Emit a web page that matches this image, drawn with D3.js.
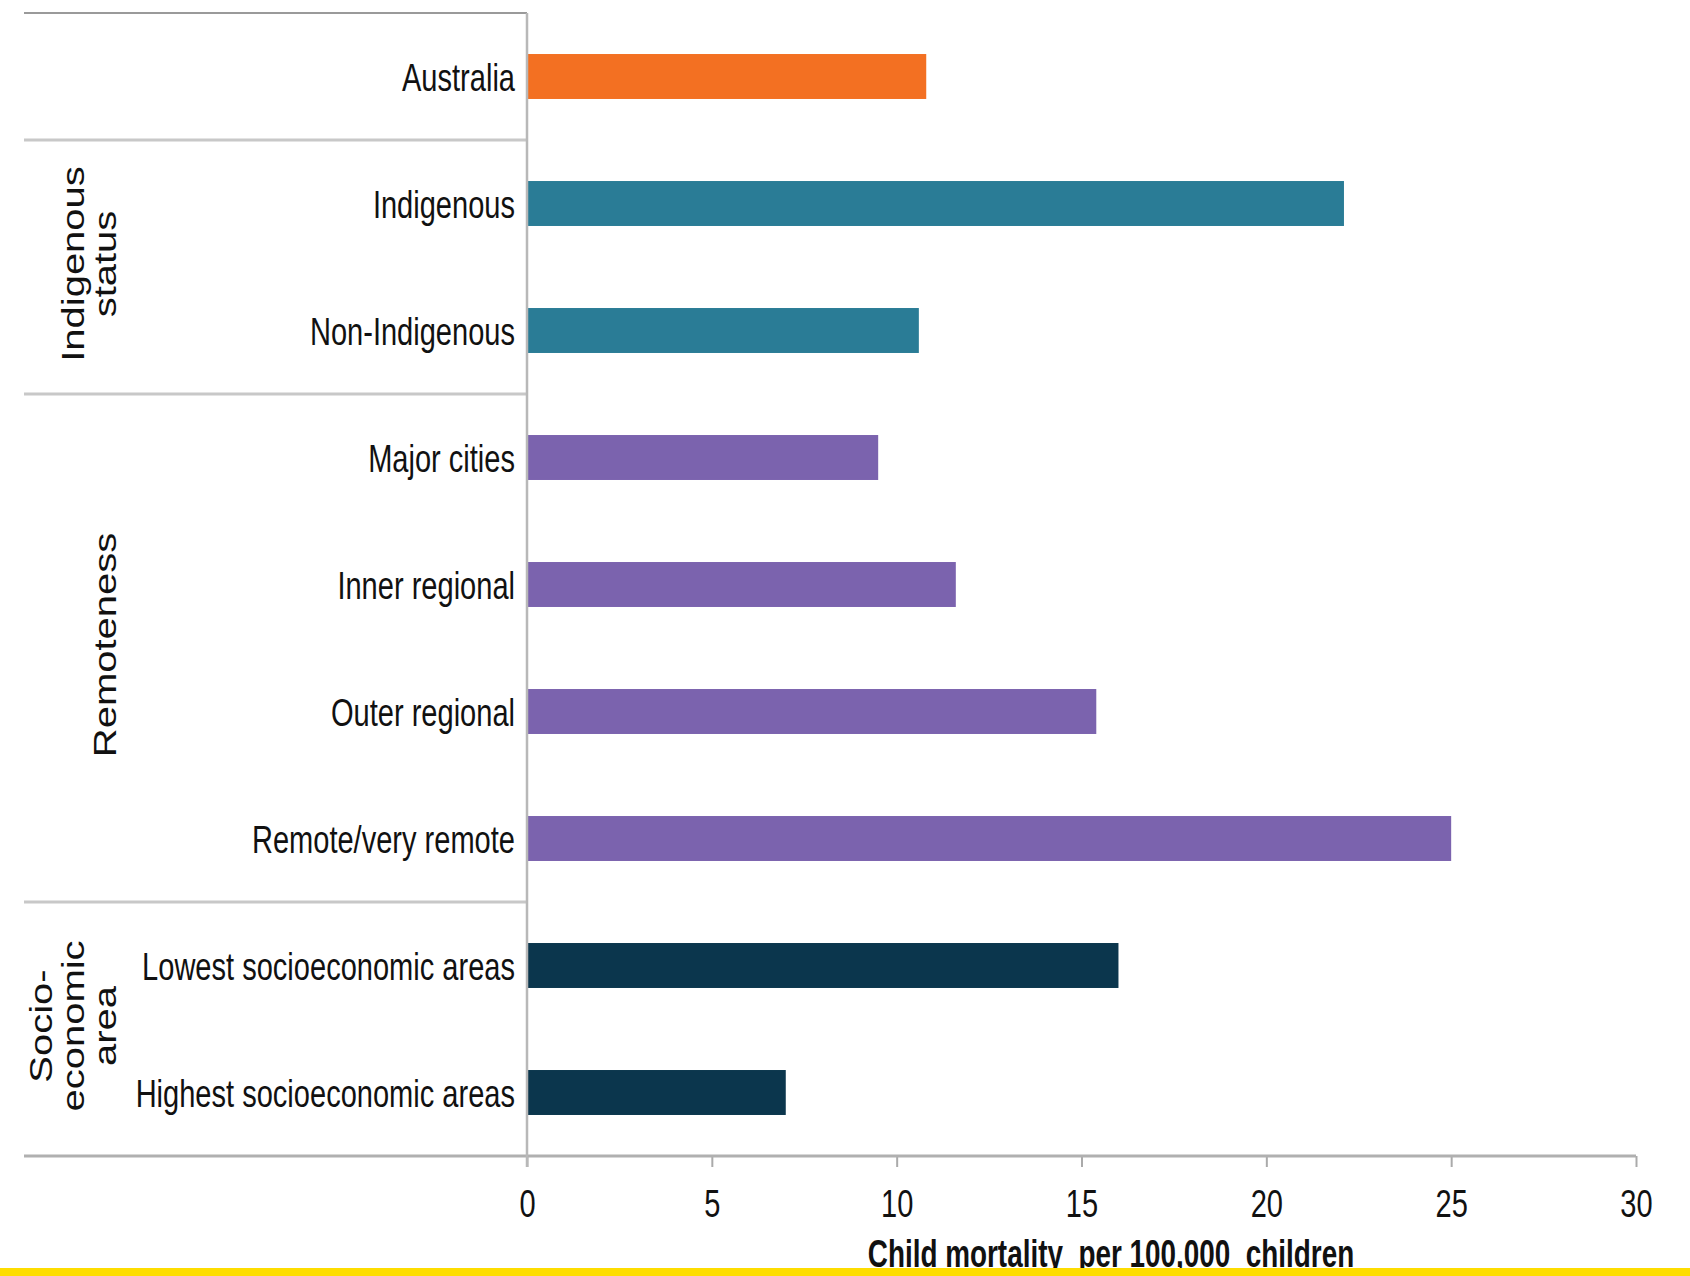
<!DOCTYPE html>
<html>
<head>
<meta charset="utf-8">
<script src="https://cdn.jsdelivr.net/npm/d3@7"></script>
<style>
    body { margin: 0; background: #fff; }
    svg { display: block; font-family: "Liberation Sans", Arial, sans-serif; }
</style>
</head>
<body>
<svg id="chart" width="1690" height="1276"></svg>
<script>
const categories = [
    "Australia",
    "Indigenous",
    "Non-Indigenous",
    "Major cities",
    "Inner regional",
    "Outer regional",
    "Remote/very remote",
    "Lowest socioeconomic areas",
    "Highest socioeconomic areas"
]

const values = [10.8, 22.1, 10.6, 9.5, 11.6, 15.4, 25.0, 16.0, 7.0]

// which group each category belongs to
const groupOf = ["all", "ind", "ind", "rem", "rem", "rem", "rem", "ses", "ses"]

const groups = [
    {key: "all", lines: [], first: "Australia", last: "Australia"},
    {key: "ind", lines: ["Indigenous", "status"], first: "Indigenous", last: "Non-Indigenous"},
    {key: "rem", lines: ["Remoteness"], first: "Major cities", last: "Remote/very remote"},
    {key: "ses", lines: ["Socio-", "economic", "area"], first: "Lowest socioeconomic areas", last: "Highest socioeconomic areas"}
]

const groupColors = {all: "#f37022", ind: "#2a7c96", rem: "#7b63ae", ses: "#0b364d"}

const xTicks = [0, 5, 10, 15, 20, 25, 30]
const xTitle = "Child mortality  per 100,000  children"

const data = categories.map((name, i) => ({name, value: values[i], group: groupOf[i]}))

const width = 1690, height = 1276;
const margin = ({top: 13, right: 54, bottom: 120, left: 527});
const frameLeft = 24;
const squeeze = 0.745; // the source text is narrow / tall

const svg = d3.select("#chart");

const x = d3.scaleLinear()
    .domain([0, 30])
    .range([margin.left, width - margin.right]);

const y = d3.scaleBand()
    .domain(categories)
    .range([margin.top, height - margin.bottom])
    .paddingInner(0.646)
    .paddingOuter(0.323);

const gap = (y.step() - y.bandwidth()) / 2;

// group separators on the left
svg.append("g")
    .selectAll("line")
    .data(groups)
    .join("line")
    .attr("x1", frameLeft)
    .attr("x2", x(0))
    .attr("y1", d => y(d.first) - gap)
    .attr("y2", d => y(d.first) - gap)
    .attr("stroke", (d, i) => i === 0 ? "#9a9a9a" : "#c8c8c8")
    .attr("stroke-width", (d, i) => i === 0 ? 2 : 3);

// bars
svg.append("g")
    .selectAll("rect")
    .data(data)
    .join("rect")
    .attr("x", x(0))
    .attr("y", d => y(d.name))
    .attr("width", d => x(d.value) - x(0))
    .attr("height", y.bandwidth())
    .attr("fill", d => groupColors[d.group]);

// x axis
const xAxis = svg.append("g")
    .attr("transform", `translate(0,${height - margin.bottom})`)
    .call(d3.axisBottom(x).tickValues(xTicks).tickSize(11).tickSizeOuter(0).tickPadding(0));

xAxis.select(".domain").remove();
xAxis.selectAll(".tick line")
    .attr("stroke", "#aaa")
    .attr("stroke-width", 2);
xAxis.selectAll(".tick text")
    .attr("y", 61)
    .attr("dy", null)
    .attr("fill", "#111")
    .attr("font-size", 39)
    .attr("font-family", "Liberation Sans, Arial, sans-serif")
    .attr("transform", `scale(${squeeze},1)`);

// bottom line runs under the whole frame
svg.append("line")
    .attr("x1", frameLeft)
    .attr("x2", x(30))
    .attr("y1", height - margin.bottom)
    .attr("y2", height - margin.bottom)
    .attr("stroke", "#b0b0b0")
    .attr("stroke-width", 3);

// vertical axis line
svg.append("line")
    .attr("x1", x(0))
    .attr("x2", x(0))
    .attr("y1", margin.top)
    .attr("y2", height - margin.bottom + 11)
    .attr("stroke", "#b8b8b8")
    .attr("stroke-width", 2.5);

// category labels
svg.append("g")
    .selectAll("g")
    .data(data)
    .join("g")
    .attr("transform", d => `translate(${x(0) - 12},${y(d.name) + y.bandwidth() / 2}) scale(${squeeze},1)`)
    .append("text")
    .attr("text-anchor", "end")
    .attr("dy", "0.36em")
    .attr("font-size", 39)
    .attr("fill", "#111")
    .text(d => d.name);

// rotated group labels
const lineGap = 32;
const groupLabel = svg.append("g")
    .selectAll("g")
    .data(groups.filter(g => g.lines.length))
    .join("g")
    .attr("transform", d => {
        const top = y(d.first) - gap;
        const bottom = y(d.last) + y.bandwidth() + gap;
        return `translate(0,${(top + bottom) / 2 - 3})`;
    });

groupLabel.selectAll("text")
    .data(d => d.lines.map((t, i) => ({t, i, n: d.lines.length})))
    .join("text")
    .attr("transform", d => `translate(${105 - (d.n - 1 - d.i) * lineGap},0) rotate(-90) scale(1.29,1)`)
    .attr("text-anchor", "middle")
    .attr("dy", "0.36em")
    .attr("font-size", 31)
    .attr("fill", "#111")
    .text(d => d.t);

// axis title
svg.append("g")
    .attr("transform", `translate(1111,1267) scale(0.715,1)`)
    .append("text")
    .attr("text-anchor", "middle")
    .attr("font-size", 39)
    .attr("font-weight", "bold")
    .attr("fill", "#111")
    .style("white-space", "pre")
    .text(xTitle);

// yellow strip along the bottom edge
svg.append("rect")
    .attr("x", 0)
    .attr("y", 1268)
    .attr("width", width)
    .attr("height", height - 1268)
    .attr("fill", "#fedd00");
</script>
</body>
</html>
